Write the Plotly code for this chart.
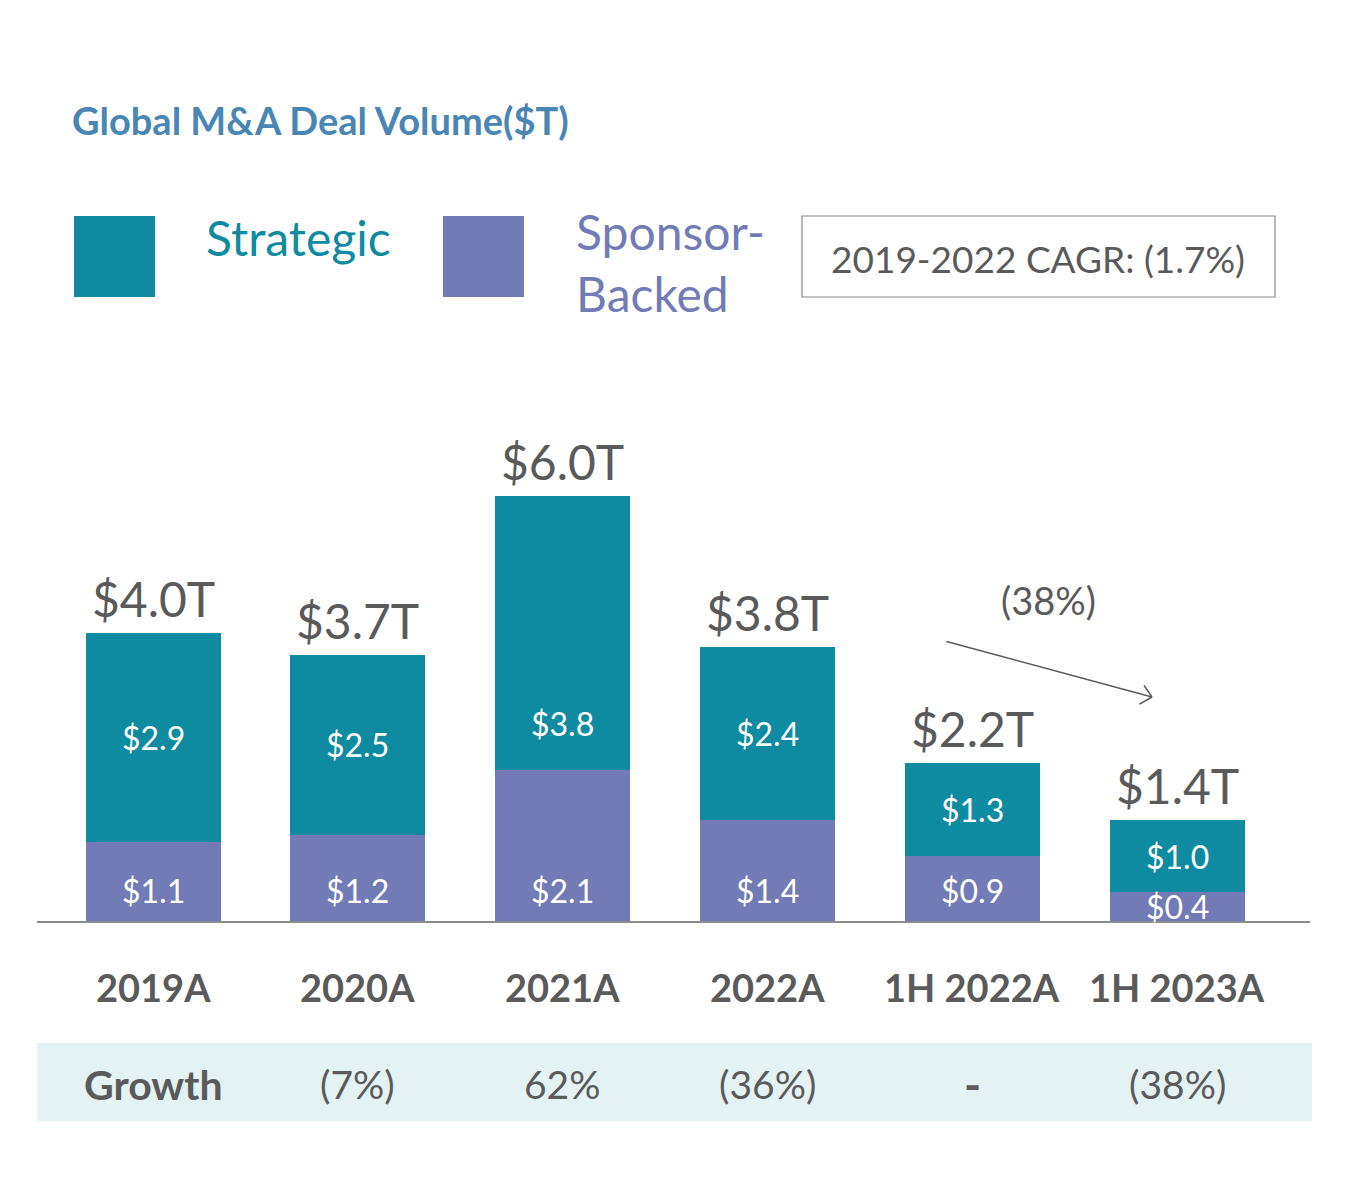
import plotly.graph_objects as go

categories = ["2019A", "2020A", "2021A", "2022A", "1H 2022A", "1H 2023A"]
strategic = [2.9, 2.5, 3.8, 2.4, 1.3, 1.0]
sponsor = [1.1, 1.2, 2.1, 1.4, 0.9, 0.4]
total_labels = ["$4.0T", "$3.7T", "$6.0T", "$3.8T", "$2.2T", "$1.4T"]
growth = ["(7%)", "62%", "(36%)", "<b>-</b>", "(38%)"]

TEAL = "#0e8ba0"
PURPLE = "#737bb6"
GREY = "#5a5a5a"
FONT = "Lato"

W, H = 1350, 1197
L, R, T, B = 37, 40, 380, 276
PW = W - L - R
PH = H - T - B
UNIT_PX = 72.0


def px(x):
    return (x - L) / PW


def py(y):
    return (H - B - y) / PH


fig = go.Figure()
fig.add_trace(go.Bar(
    x=categories, y=sponsor, name="Sponsor-Backed", marker_color=PURPLE,
    marker_line_width=0, hoverinfo="x+y",
))
fig.add_trace(go.Bar(
    x=categories, y=strategic, name="Strategic", marker_color=TEAL,
    marker_line_width=0, hoverinfo="x+y",
))

ann = []
# segment labels (label rows capped like the original slide layout)
for c, s, p in zip(categories, strategic, sponsor):
    ann.append(dict(x=c, y=min(p / 2, 31 / UNIT_PX), xref="x", yref="y",
                    text="$%.1f" % p, showarrow=False, xanchor="center", yanchor="middle",
                    font=dict(size=32, color="white", family=FONT)))
    ann.append(dict(x=c, y=min(p + s / 2, 198 / UNIT_PX), xref="x", yref="y",
                    text="$%.1f" % s, showarrow=False, xanchor="center", yanchor="middle",
                    font=dict(size=32, color="white", family=FONT)))
for c, s, p, lab in zip(categories, strategic, sponsor, total_labels):
    ann.append(dict(x=c, y=s + p, xref="x", yref="y", text=lab, showarrow=False,
                    xanchor="center", yanchor="bottom", yshift=4,
                    font=dict(size=48, color=GREY, family=FONT)))
for c in categories:
    ann.append(dict(x=c, y=py(987), xref="x", yref="paper", text="<b>%s</b>" % c,
                    showarrow=False, xanchor="center", yanchor="middle",
                    font=dict(size=38, color=GREY, family=FONT)))
ann.append(dict(x=categories[0], y=py(1084), xref="x", yref="paper", text="<b>Growth</b>",
                showarrow=False, xanchor="center", yanchor="middle",
                font=dict(size=41, color=GREY, family=FONT)))
for c, g in zip(categories[1:], growth):
    ann.append(dict(x=c, y=py(1084), xref="x", yref="paper", text=g,
                    showarrow=False, xanchor="center", yanchor="middle",
                    font=dict(size=39 if g != "<b>-</b>" else 46, color=GREY, family=FONT)))
# title
ann.append(dict(x=px(70), y=py(120), xref="paper", yref="paper",
                text="<b>Global M&A Deal Volume($T)</b>", showarrow=False,
                xanchor="left", yanchor="middle",
                font=dict(size=38, color="#4a86b4", family=FONT)))
# legend texts
ann.append(dict(x=px(204), y=py(237), xref="paper", yref="paper", text="Strategic",
                showarrow=False, xanchor="left", yanchor="middle",
                font=dict(size=48, color=TEAL, family=FONT)))
ann.append(dict(x=px(574), y=py(263), xref="paper", yref="paper", text="Sponsor-<br>Backed",
                showarrow=False, xanchor="left", yanchor="middle", align="left",
                font=dict(size=48, color=PURPLE, family=FONT)))
ann.append(dict(x=px(1038), y=py(258), xref="paper", yref="paper",
                text="2019-2022 CAGR: (1.7%)", showarrow=False,
                xanchor="center", yanchor="middle",
                font=dict(size=37, color=GREY, family=FONT)))
# arrow with open chevron head
head_x, head_y = 1152, 697
ann.append(dict(x=px(head_x), y=py(head_y), xref="paper", yref="paper",
                ax=945 - head_x, ay=641 - head_y, axref="pixel", ayref="pixel",
                text="", showarrow=True, arrowhead=0,
                arrowwidth=1.5, arrowcolor=GREY))
for dx, dy in [(-9, -13), (-14, 8)]:
    ann.append(dict(x=px(head_x), y=py(head_y), xref="paper", yref="paper",
                    ax=dx, ay=dy, axref="pixel", ayref="pixel",
                    text="", showarrow=True, arrowhead=0,
                    arrowwidth=1.5, arrowcolor=GREY))
ann.append(dict(x=px(1048), y=py(600), xref="paper", yref="paper", text="(38%)",
                showarrow=False, xanchor="center", yanchor="middle",
                font=dict(size=38, color=GREY, family=FONT)))

shapes = [
    dict(type="rect", xref="paper", yref="paper", x0=px(74), x1=px(155),
         y0=py(297), y1=py(216), fillcolor=TEAL, line_width=0),
    dict(type="rect", xref="paper", yref="paper", x0=px(443), x1=px(524),
         y0=py(297), y1=py(216), fillcolor=PURPLE, line_width=0),
    dict(type="rect", xref="paper", yref="paper", x0=px(802), x1=px(1275),
         y0=py(297), y1=py(216), fillcolor="rgba(0,0,0,0)",
         line=dict(color="#8a8a8a", width=1.2)),
    dict(type="rect", xref="paper", yref="paper", x0=px(37), x1=px(1312),
         y0=py(1121), y1=py(1043), fillcolor="#e4f2f3", line_width=0, layer="below"),
]

n = len(categories)
step = (1177 - 153) / (n - 1)
x0 = (L - 153) / step
x1 = (W - R - 153) / step

fig.update_layout(
    width=W, height=H, margin=dict(l=L, r=R, t=T, b=B),
    barmode="stack", bargap=1 - 135 / step, showlegend=False,
    plot_bgcolor="white", paper_bgcolor="white",
    annotations=ann, shapes=shapes,
    xaxis=dict(range=[x0, x1], showticklabels=False, showline=True,
               linecolor="#8c8c8c", linewidth=1.5, ticks="", showgrid=False,
               fixedrange=True),
    yaxis=dict(range=[0, PH / UNIT_PX], visible=False, showgrid=False, fixedrange=True),
    font=dict(family=FONT, color=GREY),
)

fig.write_html("out.html")
